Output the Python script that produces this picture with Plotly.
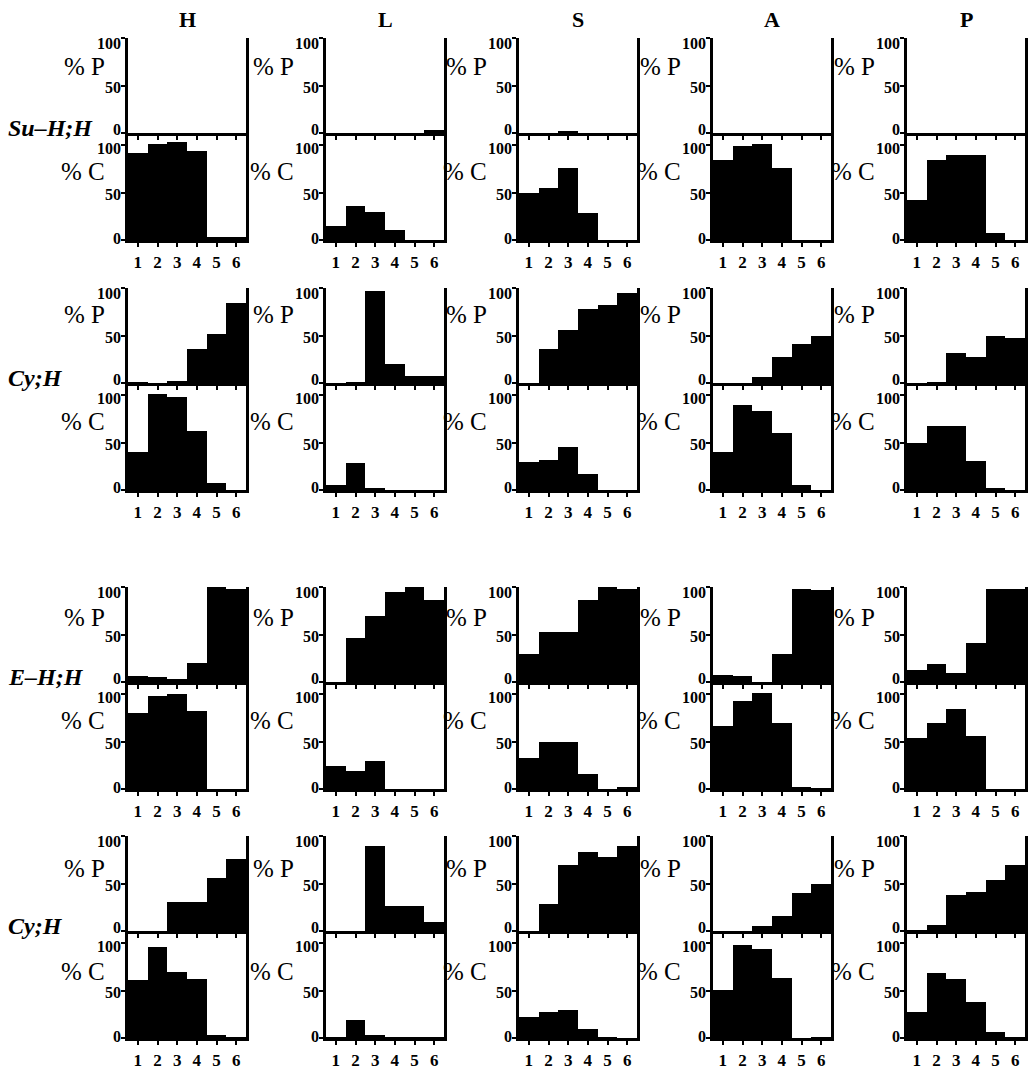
import plotly.graph_objects as go

categories = [1, 2, 3, 4, 5, 6]
columns = ["H", "L", "S", "A", "P"]
row_labels = ["Su\u2013H;H", "Cy;H", "E\u2013H;H", "Cy;H"]
y_ticks = [0, 50, 100]

# % P and % C values per block, one list per column (H, L, S, A, P)
block1_P = [[0, 0, 0, 0, 0, 0], [0, 0, 0, 0, 0, 3], [0, 0, 1.5, 0, 0, 0],
            [0, 0, 0, 0, 0, 0], [0, 0, 0, 0, 0, 0]]
block1_C = [[92, 101, 103, 94, 3, 3], [15, 36, 29, 11, 0, 0], [49, 55, 76, 28, 0, 0],
            [84, 99, 101, 76, 0, 0], [42, 84, 89, 89, 7, 0]]
block2_P = [[0.5, 0, 1.5, 36, 52, 84], [0, 0.5, 97, 20, 7, 7], [0, 36, 56, 78, 82, 95],
            [0, 0, 6, 27, 41, 49], [0, 1, 32, 27, 50, 47]]
block2_C = [[40, 101, 98, 62, 7, 0], [5, 28, 2, 0, 0, 0], [30, 32, 45, 17, 0, 0],
            [40, 90, 83, 60, 5, 0], [49, 67, 67, 31, 2, 0]]
block3_P = [[6, 5, 3, 20, 100, 98], [0, 46, 70, 95, 100, 86], [30, 53, 53, 86, 100, 98],
            [7, 6, 0, 29, 98, 97], [13, 19, 9, 41, 98, 98]]
block3_C = [[80, 98, 100, 82, 0, 0], [24, 19, 30, 0, 0, 0], [33, 49, 49, 16, 0, 2],
            [66, 93, 101, 70, 2, 1], [54, 70, 84, 56, 0, 0]]
block4_P = [[0, 0, 31, 31, 56, 76], [0, 0, 90, 26, 26, 10], [0, 28, 70, 83, 78, 90],
            [0, 0, 5, 16, 40, 50], [1, 6, 38, 41, 54, 70]]
block4_C = [[61, 96, 70, 62, 3, 1], [0.5, 19, 3, 0.5, 0.5, 0.5], [22, 27, 29, 9, 1, 0],
            [51, 98, 94, 63, 0, 1], [27, 68, 62, 38, 6, 1]]

blocks_P = [block1_P, block2_P, block3_P, block4_P]
blocks_C = [block1_C, block2_C, block3_C, block4_C]

W, H = 1032, 1073
block_tops = [38, 288, 587, 836]
col_lefts = [128, 326, 519, 713, 907]
PANEL_W = 118
P_H = 95
C_H = 107
C_MAX = 100 * C_H / P_H
GAP_PX = C_H - P_H  # px between the P zero line and the C 100 tick
pP_offsets = [28, 26, 30, 32]
pC_offsets = [133, 134, 133, 136]
label_gap = [21, 30, 30, 30, 30]

SERIF = "Liberation Serif"
TICK_FONT = dict(family=SERIF, size=16, color="black", weight="bold")


def yd(py):
    return 1 - py / H


fig = go.Figure()
layout = dict(
    width=W, height=H, margin=dict(l=0, r=0, t=0, b=0),
    paper_bgcolor="white", plot_bgcolor="white", showlegend=False,
    bargap=0, font=dict(family=SERIF, color="black"),
)
annotations = []


def ytick_label(text, L, yref, yval, yanchor, yshift):
    annotations.append(dict(
        text=text, x=(L - 6) / W, xref="paper", y=yval, yref=yref,
        xanchor="right", yanchor=yanchor, yshift=yshift, showarrow=False,
        borderpad=0, font=TICK_FONT))


idx = 0
for b in range(4):
    T = block_tops[b]
    for c in range(5):
        L = col_lefts[c]
        xdom = [L / W, (L + PANEL_W) / W]
        for kind in ("P", "C"):
            idx += 1
            sfx = "" if idx == 1 else str(idx)
            xa, ya = "x" + sfx, "y" + sfx
            vals = blocks_P[b][c] if kind == "P" else blocks_C[b][c]
            if kind == "P":
                ydom = [yd(T + P_H), yd(T)]
                yr = [0, 100]
            else:
                ydom = [yd(T + P_H + C_H), yd(T + P_H)]
                yr = [0, C_MAX]
            fig.add_trace(go.Bar(x=categories, y=vals, width=1, xaxis=xa, yaxis=ya,
                                 marker=dict(color="black", line=dict(width=0))))
            layout["xaxis" + sfx] = dict(
                domain=xdom, anchor=ya, range=[0.5, 6.5], tickvals=categories,
                ticktext=[str(v) for v in categories],
                showticklabels=(kind == "C"), ticks="outside", ticklen=4, tickwidth=2,
                tickcolor="black", showline=True, linewidth=2.5, linecolor="black",
                showgrid=False, zeroline=False, fixedrange=True,
                tickfont=dict(family=SERIF, size=17, color="black", weight="bold"),
                ticklabelstandoff=1,
            )
            layout["yaxis" + sfx] = dict(
                domain=ydom, anchor=xa, range=yr, tickvals=y_ticks,
                showticklabels=False, ticks="outside", ticklen=4,
                tickwidth=2, tickcolor="black", showline=True, linewidth=2.5,
                linecolor="black", mirror=True, showgrid=False, zeroline=False,
                fixedrange=True,
            )
            # tick labels placed on the axis scale, nudged as in the original
            if kind == "P":
                ytick_label(str(y_ticks[2]), L, ya, y_ticks[2], "middle", -5)
                ytick_label(str(y_ticks[1]), L, ya, y_ticks[1], "middle", -2)
                ytick_label(str(y_ticks[0]), L, ya, y_ticks[0], "bottom", -6)
            else:
                ytick_label(str(y_ticks[2]), L, ya, y_ticks[2], "top", GAP_PX - 6)
                ytick_label(str(y_ticks[1]), L, ya, y_ticks[1], "middle", -2)
                ytick_label(str(y_ticks[0]), L, ya, y_ticks[0], "middle", 2)
        annotations.append(dict(
            text="% P", x=(L - label_gap[c]) / W, y=yd(T + pP_offsets[b]),
            xref="paper", yref="paper", xanchor="right", yanchor="middle",
            showarrow=False, font=dict(family=SERIF, size=25, color="black")))
        annotations.append(dict(
            text="% C", x=(L - label_gap[c]) / W, y=yd(T + pC_offsets[b]),
            xref="paper", yref="paper", xanchor="right", yanchor="middle",
            showarrow=False, font=dict(family=SERIF, size=25, color="black")))
    annotations.append(dict(
        text="<b><i>" + row_labels[b] + "</i></b>", x=6 / W, y=yd(T + P_H - 5),
        xref="paper", yref="paper", xanchor="left", yanchor="middle",
        showarrow=False, font=dict(family=SERIF, size=24, color="black")))

for c in range(5):
    L = col_lefts[c]
    annotations.append(dict(
        text="<b>" + columns[c] + "</b>", x=(L + PANEL_W / 2) / W, y=yd(20),
        xref="paper", yref="paper", xanchor="center", yanchor="middle",
        showarrow=False, font=dict(family=SERIF, size=22, color="black")))

layout["annotations"] = annotations
fig.update_layout(**layout)
fig.write_html(
    "out.html",
    config={"displayModeBar": False},
    post_script="document.body.style.margin='0';document.body.style.overflow='hidden';",
)
